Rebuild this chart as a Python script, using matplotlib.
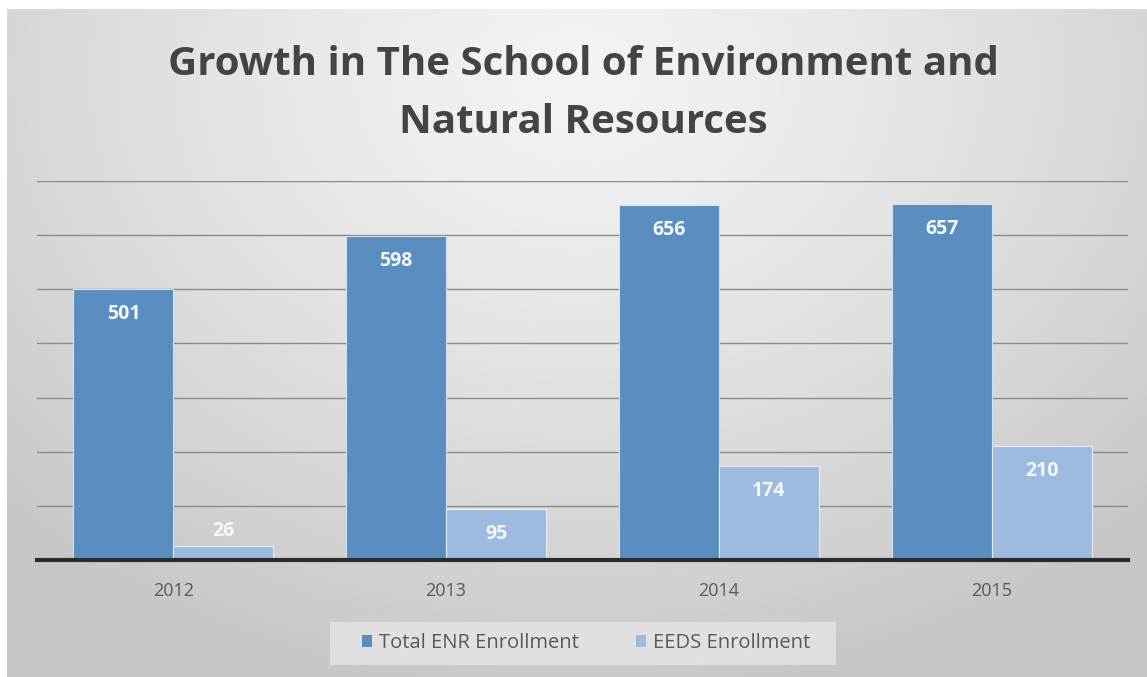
import numpy as np
import matplotlib
matplotlib.use("Agg")
import matplotlib.pyplot as plt
from matplotlib.patches import Patch, Rectangle

years = ["2012", "2013", "2014", "2015"]
total_enr = [501, 598, 656, 657]
eeds = [26, 95, 174, 210]
series_names = ["Total ENR Enrollment", "EEDS Enrollment"]
title_lines = ["Growth in The School of Environment and", "Natural Resources"]

W, H = 1147, 677
fig = plt.figure(figsize=(W / 100, H / 100), dpi=100, facecolor="white")

# background gradient panel
bg = fig.add_axes([7 / W, 0, 1 - 7 / W, 1 - 9 / H], zorder=-10)
ny, nx = 300, 600
yy, xx = np.mgrid[0:1:ny * 1j, 0:1:nx * 1j]
r = np.sqrt(((xx - 0.5) / 0.75) ** 2 + ((yy - 0.1) / 1.0) ** 2)
g = np.clip(0.955 - 0.19 * r ** 1.3, 0.78, 1.0)
bg.imshow(np.dstack([g, g, g]), extent=[0, 1, 0, 1], aspect="auto", origin="upper")
bg.axis("off")

ax = fig.add_axes([37 / W, (H - 560) / H, (1128 - 37) / W, (560 - 181) / H])
ax.set_facecolor("none")

x = np.arange(len(years))
bw = 0.367
c1, c2 = "#5b8ec0", "#9dbadf"
b1 = ax.bar(x - bw / 2, total_enr, bw, color=c1, edgecolor="#cfe0f2", linewidth=0.8, zorder=3)
b2 = ax.bar(x + bw / 2, eeds, bw, color=c2, edgecolor="#e6eef8", linewidth=0.8, zorder=3)

ax.set_ylim(0, 700)
ax.set_xlim(-0.5, len(years) - 0.5)
ax.set_yticks(np.arange(100, 701, 100))
ax.yaxis.grid(True, color="#8a8a8a", linewidth=1.0, zorder=0)
ax.set_axisbelow(True)
for s in ["top", "right", "left"]:
    ax.spines[s].set_visible(False)
ax.spines["bottom"].set_color("#2b2b2b")
ax.spines["bottom"].set_linewidth(3)
ax.spines["bottom"].set_zorder(5)
ax.tick_params(axis="y", left=False, labelleft=False)
ax.tick_params(axis="x", bottom=False, pad=12)
ax.set_xticks(x)
ax.set_xticklabels(years, fontsize=13, color="#595959", family="Open Sans")

def label(bars, vals):
    for rect, v in zip(bars, vals):
        cx = rect.get_x() + rect.get_width() / 2
        off = -18 if v > 60 else 11
        ax.annotate(str(v), (cx, v), xytext=(0, off), textcoords="offset points",
                    ha="center", va="center", color="#f4f7fb", fontsize=14,
                    fontweight="bold", family="Open Sans", zorder=6)

label(b1, total_enr)
label(b2, eeds)

for line, ypx in zip(title_lines, [75, 133]):
    fig.text(583 / W, 1 - ypx / H, line, ha="center", va="baseline", fontsize=29,
             fontweight="bold", color="#444444", family="Open Sans")

# legend box
fig.patches.append(Rectangle((330 / W, 1 - 665 / H), (836 - 330) / W, 43 / H,
                             transform=fig.transFigure, facecolor="#e4e4e4",
                             edgecolor="none", alpha=0.85, zorder=1))
handles = [Patch(facecolor=c1), Patch(facecolor=c2)]
leg = fig.legend(handles, series_names, loc="center", bbox_to_anchor=(586 / W, 1 - 643 / H),
                 ncol=2, frameon=False, fontsize=14.5,
                 handlelength=0.5, handleheight=0.5, handletextpad=0.35,
                 columnspacing=2.8, borderpad=0.6)
for t in leg.get_texts():
    t.set_color("#595959")
    t.set_family("Open Sans")

fig.savefig("out.png", dpi=100, facecolor="white")
